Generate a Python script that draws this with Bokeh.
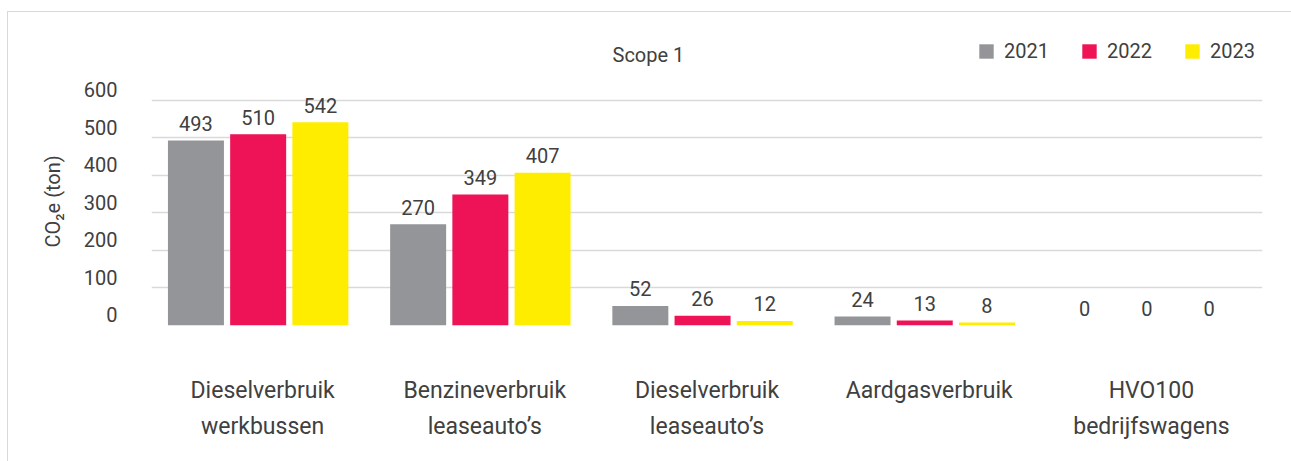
from bokeh.plotting import figure
from bokeh.models import (ColumnDataSource, FactorRange, Range1d, LinearAxis, FixedTicker,
                          Legend, LegendItem, Label, Title)
from bokeh.transform import dodge
from bokeh.core.properties import value
from bokeh.embed import file_html
from bokeh.resources import INLINE

# ---- data ----
categories = ["Dieselverbruik\nwerkbussen", "Benzineverbruik\nleaseauto’s",
              "Dieselverbruik\nleaseauto’s", "Aardgasverbruik", "HVO100\nbedrijfswagens"]
years = ["2021", "2022", "2023"]
v2021 = [493, 270, 52, 24, 0]
v2022 = [510, 349, 26, 13, 0]
v2023 = [542, 407, 12, 8, 0]
y_ticks = [0, 100, 200, 300, 400, 500, 600]
title_text = "Scope 1"
y_label = "CO₂e (ton)"

colors = ["#939598", "#ED1356", "#FFED00"]
FONT = "Roboto"
TXT = "#404040"
FS = "20px"

src = ColumnDataSource(data=dict(cat=categories, y2021=v2021, y2022=v2022, y2023=v2023,
                                 t2021=[str(v) for v in v2021],
                                 t2022=[str(v) for v in v2022],
                                 t2023=[str(v) for v in v2023]))

Y_END = 781
LAB_SHIFT = 29
p = figure(x_range=FactorRange(factors=categories, range_padding=0),
           y_range=Range1d(0, Y_END),
           frame_width=1111, frame_height=293,
           min_border_left=143, min_border_right=29, min_border_top=20, min_border_bottom=136,
           output_backend="svg", toolbar_location=None, y_axis_location=None,
           background_fill_color="white", border_fill_color="white")
p.outline_line_color = None
p.styles = {"margin-left": "7px", "margin-top": "11px",
            "border-top": "1px solid #d9d9d9", "border-left": "1px solid #d9d9d9"}

offsets = [-0.30, -0.02, 0.26]
items = []
for yr, col, off in zip(years, colors, offsets):
    r = p.vbar(x=dodge("cat", off, range=p.x_range), top="y" + yr, width=0.252,
               source=src, fill_color=col, line_color=None)
    p.text(x=dodge("cat", off, range=p.x_range), y="y" + yr, text="t" + yr, source=src,
           text_align="center", text_baseline="middle", y_offset=-17,
           text_font=value(FONT), text_font_size=FS, text_color=TXT)
    items.append(LegendItem(label=yr, renderers=[r]))

# grid
p.xgrid.grid_line_color = None
p.ygrid.ticker = FixedTicker(ticks=[t for t in y_ticks if t > 0])
p.ygrid.grid_line_color = "#d9d9d9"
p.ygrid.grid_line_width = 1.5

# y axis with labels placed slightly above the gridlines
p.extra_y_ranges = {"lab": Range1d(-LAB_SHIFT, Y_END - LAB_SHIFT)}
yax = LinearAxis(y_range_name="lab", ticker=FixedTicker(ticks=y_ticks))
yax.axis_line_color = None
yax.major_tick_line_color = None
yax.minor_tick_line_color = None
yax.major_label_standoff = 28
yax.major_label_text_font = FONT
yax.major_label_text_font_size = FS
yax.major_label_text_color = TXT
p.add_layout(yax, "left")

# y axis title
p.add_layout(Title(text=y_label, align="left", offset=78, standoff=31,
                   text_font=FONT, text_font_size=FS, text_font_style="normal",
                   text_color=TXT), "left")

xax = p.xaxis[0]
xax.axis_line_color = None
xax.major_tick_line_color = None
xax.minor_tick_line_color = None
xax.major_label_standoff = 45
xax.major_label_text_font = FONT
xax.major_label_text_font_size = "23px"
xax.major_label_text_color = TXT
xax.major_label_text_line_height = 1.37

# chart heading
p.add_layout(Label(x=461, y=271, x_units="screen", y_units="screen", text=title_text,
                   text_baseline="middle", text_font=FONT, text_font_size=FS,
                   text_color=TXT))

legend = Legend(items=items, orientation="horizontal", location=(826, 262),
                padding=0, margin=0, spacing=31, glyph_width=18, glyph_height=18,
                label_height=18, label_standoff=9, border_line_color=None,
                background_fill_alpha=0, label_text_font=FONT, label_text_font_size=FS,
                label_text_color=TXT)
p.add_layout(legend)

open("out.html", "w").write(file_html(p, INLINE))
